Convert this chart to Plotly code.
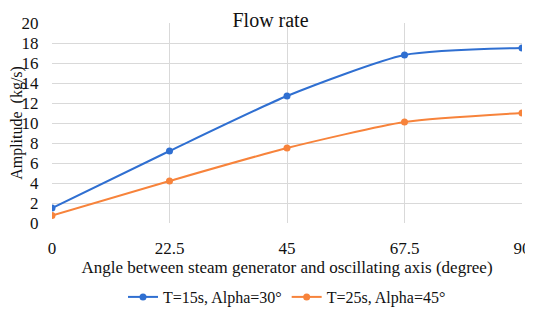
import plotly.graph_objects as go

angles = [0, 22.5, 45, 67.5, 90]
series1_name = "T=15s, Alpha=30°"
series1 = [1.5, 7.2, 12.7, 16.8, 17.5]
series2_name = "T=25s, Alpha=45°"
series2 = [0.75, 4.2, 7.5, 10.1, 11.0]
x_ticks = [0, 22.5, 45, 67.5, 90]
x_tick_labels = ["0", "22.5", "45", "67.5", "90"]

font = "Liberation Serif, serif"
blue = "#2f6fd1"
orange = "#f7833b"

fig = go.Figure()
fig.add_trace(go.Scatter(x=angles, y=series1, name=series1_name, mode="lines+markers",
                         line=dict(color=blue, width=2, shape="spline", smoothing=0.6),
                         marker=dict(size=7, color=blue)))
fig.add_trace(go.Scatter(x=angles, y=series2, name=series2_name, mode="lines+markers",
                         line=dict(color=orange, width=2, shape="spline", smoothing=0.6),
                         marker=dict(size=7, color=orange)))

# page body adds 8px margin on left/top, so the figure is 8px smaller
fig.update_layout(
    width=525, height=303,
    margin=dict(l=44, r=11, t=15, b=88, autoexpand=False),
    paper_bgcolor="white", plot_bgcolor="white",
    font=dict(family=font, size=17, color="#111"),
    title=dict(text="Flow rate", x=0.5, xanchor="center", y=0.985, yanchor="top",
               pad=dict(t=0, b=0), font=dict(family=font, size=20, color="#111")),
    showlegend=True,
    legend=dict(orientation="h", x=0.5, xanchor="center", y=-0.37, yanchor="middle",
                font=dict(family=font, size=16), itemwidth=30, tracegroupgap=0),
    xaxis=dict(range=[0, 90], tickvals=x_ticks, ticktext=x_tick_labels, automargin=True,
               showgrid=True, gridcolor="#d9d9d9", gridwidth=1, zeroline=False,
               showline=False, ticks="", ticklabelstandoff=13, ticklabeloverflow="allow",
               tickfont=dict(family=font, size=17),
               title=dict(text="Angle between steam generator and oscillating axis (degree)",
                          font=dict(family=font, size=17), standoff=4)),
    yaxis=dict(range=[0, 20], dtick=2, showgrid=True, gridcolor="#d9d9d9", gridwidth=1,
               automargin=True, tickfont=dict(family=font, size=17),
               zeroline=False, showline=False, ticks="outside", ticklen=9,
               tickcolor="rgba(255,255,255,0)",
               title=dict(text="Amplitude  (kg/s)", font=dict(family=font, size=16), standoff=3)),
)
fig.write_html("out.html")
